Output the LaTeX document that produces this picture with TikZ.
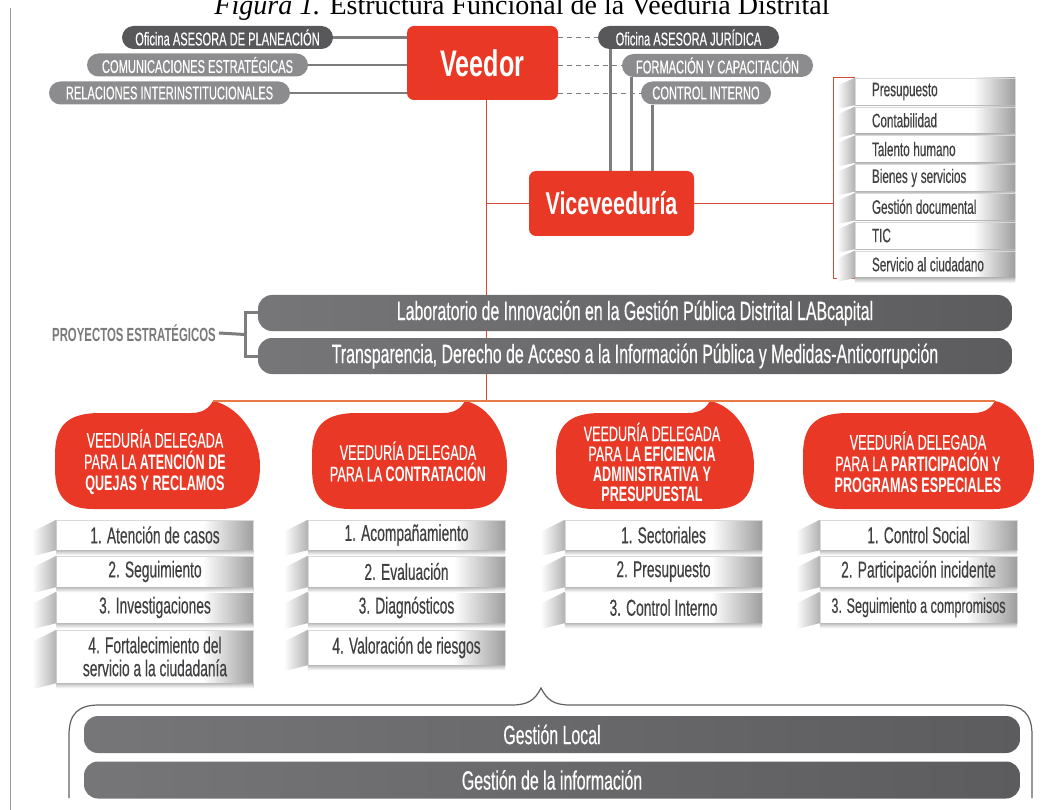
\documentclass[tikz,border=0pt]{standalone}
\usepackage{fontspec}
\setmainfont{Liberation Serif}
\newfontfamily\cf{Liberation Sans}[FakeStretch=0.6, FakeBold=0.35]
\newfontfamily\cfb{Liberation Sans Bold}[FakeStretch=0.6]
\newfontfamily\cfw{Liberation Sans Bold}[FakeStretch=0.68]
\usetikzlibrary{calc}
\definecolor{vred}{RGB}{234,56,38}
\definecolor{pdark}{RGB}{88,88,90}
\definecolor{plight}{RGB}{140,140,142}
\definecolor{lineg}{RGB}{125,125,127}
\definecolor{txtg}{RGB}{64,64,66}
\definecolor{rl}{RGB}{214,72,52}
\definecolor{orl}{RGB}{232,122,72}
\definecolor{bar1}{RGB}{118,118,120}
\definecolor{bar2}{RGB}{92,92,94}
\definecolor{projt}{RGB}{122,122,124}
\pgfdeclarehorizontalshading{itemshade}{100bp}{color(0bp)=(white); color(25bp)=(white); color(62bp)=(white); color(75bp)=(black!38); color(100bp)=(black!38)}
\newcommand{\bevel}[3]{%
  \shade[left color=white, right color=black!30] ($(#1.north west)+(-#2,#3)$) -- (#1.north west) -- (#1.south west) -- ($(#1.south west)+(-#2,#3/2)$) -- cycle;
  \shade[top color=black!26, bottom color=white] (#1.south west) rectangle ($(#1.south east)+(0,5)$);}
\newcommand{\bubble}[4]{% name, x1, x2, tip
  \fill[vred] (#4,401) .. controls (#4+25,406) and (#3,435) .. (#3,466) .. controls (#3,495) and (#3-12,509) .. (#3-40,509) -- (#2+38,509) .. controls (#2+8,509) and (#2,493) .. (#2,468) -- (#2,455) .. controls (#2,426) and (#2+12,413) .. (#2+45,413) -- (#4-22,413) .. controls (#4-10,413) and (#4-4,408) .. (#4,401) -- cycle;
  \coordinate (#1) at (#4,401);}
\begin{document}
\begin{tikzpicture}[x=1pt,y=-1pt,
  every node/.style={inner sep=0pt},
  pilld/.style={fill=pdark, rounded corners=11.5pt, minimum height=23pt, text=white, font=\cf\fontsize{18.5}{20}\selectfont},
  pilll/.style={pilld, fill=plight},
  redbox/.style={fill=vred, rounded corners=7pt, text=white},
  gline/.style={draw=lineg, line width=2.6pt},
  dline/.style={draw=lineg, line width=0.9pt, dash pattern=on 5pt off 4pt},
  rline/.style={draw=rl, line width=1pt},
  projbar/.style={rounded corners=14pt, minimum width=754pt, minimum height=36pt, left color=bar1, right color=bar2, text=white, font=\cf\fontsize{26.5}{27}\selectfont},
  btmbar/.style={rounded corners=14pt, minimum width=936pt, minimum height=37pt, left color=bar1, right color=bar2, text=white, font=\cf\fontsize{26.5}{27}\selectfont},
  itembox/.style={shade, shading=itemshade, draw=black!15, line width=0.4pt, text=txtg, font=\cf\fontsize{23}{25}\selectfont, align=center, minimum width=197pt},
  admbox/.style={shade, shading=itemshade, draw=black!15, line width=0.4pt, text=txtg, font=\cf\fontsize{19.5}{21}\selectfont, align=left, text width=126pt, inner xsep=17pt, minimum height=27pt},
  btxt/.style={text=white, align=center, font=\cf\fontsize{21}{21.5}\selectfont}
]
\useasboundingbox (0,0) rectangle (1060,810);
\fill[white] (0,0) rectangle (1060,810);
% title
\node[anchor=base, font=\fontsize{28}{30}\selectfont] (title) at (522,15) {\textit{Figura 1.} Estructura Funcional de la Veeduría Distrital};
% page line
\coordinate (pl1) at (10,8); \coordinate (pl2) at (10,810);
\draw[black!40, line width=1pt] (pl1) -- (pl2);

% red spine
\coordinate (spine) at (486,401);
% Veedor and pills
\node[redbox, minimum width=151pt, minimum height=74pt, font=\cfw\fontsize{37}{38}\selectfont] (veedor) at (482.5,63) {Veedor};
\node[pilld, minimum width=211pt] (p1) at (227.5,37.5) {Oficina ASESORA DE PLANEACIÓN};
\node[pilll, minimum width=221pt] (p2) at (197.5,65) {COMUNICACIONES ESTRATÉGICAS};
\node[pilll, minimum width=241pt] (p3) at (169.5,93) {RELACIONES INTERINSTITUCIONALES};
\node[pilld, minimum width=181pt] (q1) at (688.5,37.5) {Oficina ASESORA JURÍDICA};
\node[pilll, minimum width=191pt] (q2) at (717.5,65.5) {FORMACIÓN Y CAPACITACIÓN};
\node[pilll, minimum width=130pt] (q3) at (706,93) {CONTROL INTERNO};
\draw[gline] (p1.east) -- (p1.east -| veedor.west);
\draw[gline] (p2.east) -- (p2.east -| veedor.west);
\draw[gline] (p3.east) -- (p3.east -| veedor.west);
\draw[dline] (q1.west -| veedor.east) -- (q1.west);
\draw[dline] (q2.west -| veedor.east) -- (q2.west);
\draw[dline] (q3.west -| veedor.east) -- (q3.west);

% Viceveeduria
\node[redbox, minimum width=165pt, minimum height=65pt, font=\cfw\fontsize{31.5}{33}\selectfont] (vice) at (611.5,203.5) {Viceveeduría};
\coordinate (v1) at (610,171); \coordinate (v2) at (631,171); \coordinate (v3) at (652,171);
\draw[draw=lineg, line width=3pt] (v1 |- q1.south) -- (v1 |- vice.north);
\draw[draw=lineg, line width=3pt] (v2 |- q2.south) -- (v2 |- vice.north);
\draw[draw=lineg, line width=3pt] (v3 |- q3.south) -- (v3 |- vice.north);

\draw[rline] (veedor.south -| spine) -- (spine);
\draw[rline] (vice.west -| spine) -- (vice.west);
\coordinate (brx) at (833,203.5);
\draw[rline] (vice.east) -- (brx);
\draw[rline] (857,78) -- (833,78) -- (833,279) -- (857,279);

% admin items
\foreach \t [count=\i from 0] in {Presupuesto,Contabilidad,Talento humano,Bienes y servicios,Gestión documental,TIC,Servicio al ciudadano}{
  \node[admbox] (a\i) at (935,91.5+28.8*\i) {\spaceskip=3.6pt\relax\t};
  \bevel{a\i}{18}{8}
}

% strategic projects
\node[projbar] (lab) at (635,313) {Laboratorio de Innovación en la Gestión Pública Distrital LABcapital};
\node[projbar] (tra) at (635,356) {Transparencia, Derecho de Acceso a la Información Pública y Medidas-Anticorrupción};
\node[anchor=east, text=projt, font=\cfb\fontsize{19}{20}\selectfont] (pe) at (216,333) {PROYECTOS ESTRATÉGICOS};
\coordinate (brk) at (245,334.5);
\draw[draw=lineg, line width=3pt] (pe.east) ++(3,0) -- (brk);
\draw[draw=lineg, line width=3pt] (lab.west) -- (lab.west -| brk) -- (tra.west -| brk) -- (tra.west);

% delegated units
\bubble{t1}{55}{260}{213}
\bubble{t2}{312}{507}{465}
\bubble{t3}{556}{754}{710}
\bubble{t4}{803}{1034}{995}
\draw[draw=orl, line width=1.3pt] (t1) -- (t4);
\node[btxt] (d1) at (155,462) {VEEDURÍA DELEGADA\\PARA LA {\cfb ATENCIÓN DE}\\{\cfb QUEJAS Y RECLAMOS}};
\node[btxt] (d2) at (408,461.5) {VEEDURÍA DELEGADA\\PARA LA {\cfb CONTRATACIÓN}};
\node[btxt, font=\cf\fontsize{21}{20}\selectfont] (d3) at (652,462) {VEEDURÍA DELEGADA\\PARA LA {\cfb EFICIENCIA}\\{\cfb ADMINISTRATIVA Y}\\{\cfb PRESUPUESTAL}};
\node[btxt] (d4) at (918,462) {VEEDURÍA DELEGADA\\PARA LA {\cfb PARTICIPACIÓN Y}\\{\cfb PROGRAMAS ESPECIALES}};

% item stacks
\node[itembox, minimum height=30pt] (c1a) at (155,535) {1. Atención de casos};
\node[itembox, minimum height=31pt] (c1b) at (155,571.5) {2. Seguimiento};
\node[itembox, minimum height=31pt] (c1c) at (155,607.5) {3. Investigaciones};
\node[itembox, minimum height=53pt, font=\cf\fontsize{23}{23}\selectfont] (c1d) at (155,656.5) {4. Fortalecimiento del\\servicio a la ciudadanía};
\node[itembox, minimum height=30pt] (c2a) at (406.5,535) {1. Acompañamiento};
\node[itembox, minimum height=31pt] (c2b) at (406.5,571.5) {2. Evaluación};
\node[itembox, minimum height=31pt] (c2c) at (406.5,607.5) {3. Diagnósticos};
\node[itembox, minimum height=35pt] (c2d) at (406.5,647.5) {4. Valoración de riesgos};
\node[itembox, minimum height=30pt] (c3a) at (663.5,535) {1. Sectoriales};
\node[itembox, minimum height=31pt] (c3b) at (663.5,571.5) {2. Presupuesto};
\node[itembox, minimum height=31pt] (c3c) at (663.5,607.5) {3. Control Interno};
\node[itembox, minimum height=30pt] (c4a) at (918.5,535) {1. Control Social};
\node[itembox, minimum height=31pt] (c4b) at (918.5,571.5) {2. Participación incidente};
\node[itembox, minimum height=31pt, font=\cf\fontsize{21}{22}\selectfont] (c4c) at (918.5,607.5) {3. Seguimiento a compromisos};
\foreach \n in {c1a,c1b,c1c,c1d,c2a,c2b,c2c,c2d,c3a,c3b,c3c,c4a,c4b,c4c}{\bevel{\n}{24}{12}}

% bottom brace and bars
\coordinate (bpk) at (541,688);
\draw[draw=black!62, line width=1.2pt] (69,798) -- (69,735) .. controls (69,714) and (78,705) .. (99,705) -- (512,705) .. controls (528,705) and (535,700) .. (bpk) .. controls (547,700) and (554,705) .. (570,705) -- (1002,705) .. controls (1023,705) and (1032,714) .. (1032,735) -- (1032,798);
\node[btmbar] (gl) at (552,734.5) {Gestión Local};
\node[btmbar] (gi) at (552,780) {Gestión de la información};
\end{tikzpicture}
\end{document}
